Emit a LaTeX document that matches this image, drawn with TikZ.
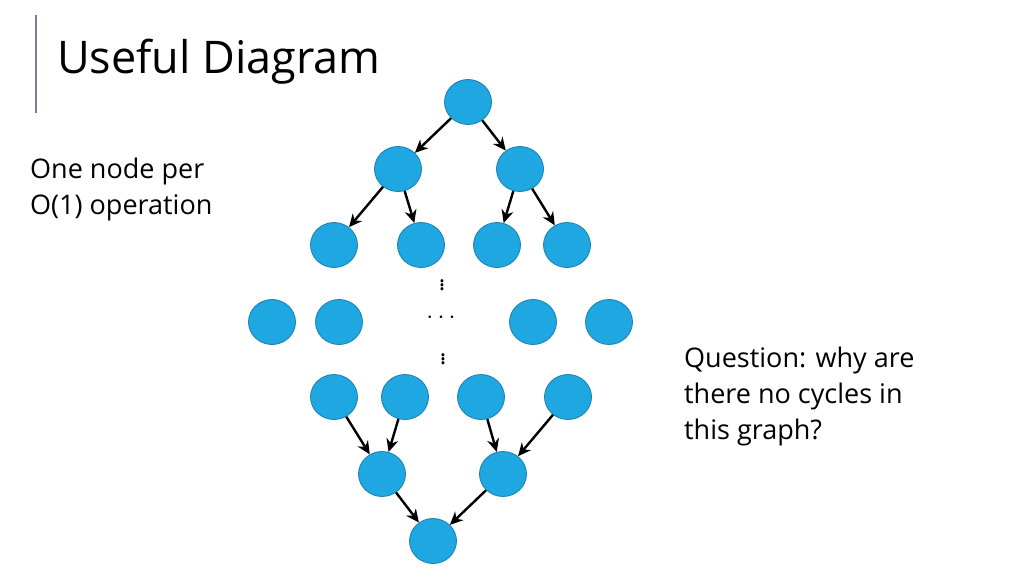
\documentclass[tikz,border=0pt]{standalone}
\usetikzlibrary{shapes.geometric,arrows.meta}
\usepackage{fontspec}
\setmainfont{Open Sans}
\definecolor{nodeblue}{HTML}{1EA7E1}
\definecolor{nodeedge}{HTML}{1A7FAE}
\definecolor{barc}{HTML}{7B7B9A}
\begin{document}
\begin{tikzpicture}[x=1pt,y=-1pt,
  nd/.style={ellipse,draw=nodeedge,fill=nodeblue,minimum width=47pt,minimum height=45pt,inner sep=0pt,line width=0.8pt},
  ar/.style={-{Stealth[length=13pt,width=12pt]},line width=2.4pt},
  txt/.style={anchor=west,font=\fontsize{27}{36}\selectfont,align=left,inner sep=0pt},
  dt/.style={inner sep=0pt,font=\fontsize{24}{24}\selectfont}]
\useasboundingbox (0,0) rectangle (1024,576);
\draw[barc,line width=1.5pt] (36,15) -- (36,113);
\node[anchor=west,inner sep=0pt,font=\fontsize{45}{50}\selectfont] (title) at (57,62) {Useful Diagram};
\node[txt] (t1) at (30,189) {One node per\\O(1) operation};
\node[txt] (t2) at (684,396) {Question: why are\\there no cycles in\\this graph?};
\foreach \n/\x/\y in {a/468/102, b1/398/169, b2/520/169,
  c1/334/245, c2/421/245, c3/497/245, c4/567/245,
  d1/272/322, d2/339/322, d3/533/322, d4/609/322,
  e1/334/397, e2/405/397, e3/481/397, e4/568/397,
  f1/382/474, f2/503/474, g/433/541}
  \node[nd] (\n) at (\x,\y) {};
\node[dt] (v1) at (442,282) {$\vdots$};
\node[dt] (h1) at (441,318) {$\cdots$};
\node[dt] (v2) at (443,356) {$\vdots$};
\draw[ar] (a) -- (b1); \draw[ar] (a) -- (b2);
\draw[ar] (b1) -- (c1); \draw[ar] (b1) -- (c2);
\draw[ar] (b2) -- (c3); \draw[ar] (b2) -- (c4);
\draw[ar] (e1) -- (f1); \draw[ar] (e2) -- (f1);
\draw[ar] (e3) -- (f2); \draw[ar] (e4) -- (f2);
\draw[ar] (f1) -- (g); \draw[ar] (f2) -- (g);
\end{tikzpicture}
\end{document}
